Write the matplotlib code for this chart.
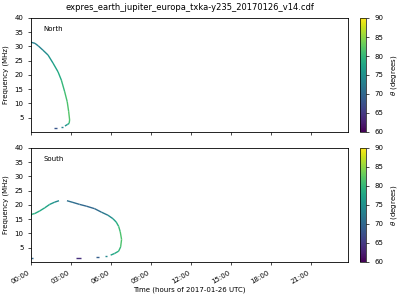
import datetime as dt
import numpy as np
import matplotlib
matplotlib.use('Agg')
import matplotlib.pyplot as plt
import matplotlib.dates as mdates
from matplotlib.collections import LineCollection

# hours after 2017-01-26 00:00, frequency (MHz), theta (deg), segment id
north_t = [0.0, 0.3, 0.55, 0.9, 1.28, 1.65, 2.03, 2.28, 2.53, 2.72, 2.83, 2.9, 2.86, 2.72, 2.55,
           2.25, 2.42,
           1.75, 1.95]
north_f = [31.5, 31.1, 30.2, 28.7, 27.0, 24.2, 21.1, 18.2, 14.1, 10.6, 7.1, 4.2, 3.0, 2.6, 2.1,
           1.75, 1.75,
           1.3, 1.3]
north_theta = [73, 73, 73, 74, 75, 77, 78, 79, 81, 81, 82, 82, 80, 76, 74,
               73, 73,
               68, 68]
north_seg = [0] * 15 + [1, 1] + [2, 2]

south_t = [0.0, 0.03, 0.28, 0.65, 1.03, 1.4, 1.78, 2.1,
           2.7, 3.15, 3.65, 4.15, 4.78, 5.28, 5.78, 6.15, 6.4, 6.58, 6.7, 6.8, 6.73, 6.58, 6.28, 5.98,
           5.55, 5.7,
           4.9, 5.1,
           3.4, 3.75,
           0.0, 0.15]
south_f = [16.0, 16.7, 17.0, 17.9, 19.0, 20.2, 21.0, 21.5,
           21.5, 20.9, 20.2, 19.6, 18.7, 17.5, 16.4, 15.2, 14.0, 12.5, 10.6, 7.9, 5.3, 3.8, 3.0, 2.4,
           2.1, 2.1,
           1.6, 1.6,
           1.3, 1.3,
           1.3, 1.3]
south_theta = [79, 79, 79, 78, 78, 77, 75, 73,
               71, 71, 70, 70, 70, 71, 73, 76, 78, 80, 81, 82, 81, 79, 78, 77,
               74, 74,
               69, 69,
               64, 64,
               70, 70]
south_seg = [0] * 8 + [1] * 16 + [2, 2] + [3, 3] + [4, 4] + [5, 5]

day0 = dt.datetime(2017, 1, 26)
cmap = plt.get_cmap('viridis')
norm = plt.Normalize(60, 90)


def draw(ax, t, f, th, seg):
    x = mdates.date2num([day0 + dt.timedelta(hours=h) for h in t])
    segs, vals = [], []
    for i in range(len(x) - 1):
        if seg[i] == seg[i + 1]:
            segs.append([(x[i], f[i]), (x[i + 1], f[i + 1])])
            vals.append(0.5 * (th[i] + th[i + 1]))
    lc = LineCollection(segs, cmap=cmap, norm=norm, linewidths=1.0)
    lc.set_array(np.array(vals))
    ax.add_collection(lc)
    return lc


fig = plt.figure(figsize=(4, 3), dpi=100)
ax1 = fig.add_axes([0.0775, 0.56, 0.7925, 0.38])
ax2 = fig.add_axes([0.0775, 0.1267, 0.7925, 0.38], sharex=ax1)
cax1 = fig.add_axes([0.9, 0.56, 0.016, 0.38])
cax2 = fig.add_axes([0.9, 0.1267, 0.016, 0.38])

lc1 = draw(ax1, north_t, north_f, north_theta, north_seg)
lc2 = draw(ax2, south_t, south_f, south_theta, south_seg)

for ax, name in ((ax1, 'North'), (ax2, 'South')):
    ax.set_ylim(0, 40)
    ax.set_yticks([5, 10, 15, 20, 25, 30, 35, 40])
    ax.set_ylabel('Frequency (MHz)', fontsize=5)
    ax.tick_params(labelsize=5, length=2, width=0.5)
    ax.text(0.038, 0.9, name, transform=ax.transAxes, fontsize=5, va='center')
    for s in ax.spines.values():
        s.set_linewidth(0.6)

ax1.set_xlim(day0, day0 + dt.timedelta(hours=23.8))
ax2.xaxis.set_major_locator(mdates.HourLocator(interval=3))
ax2.xaxis.set_major_formatter(mdates.DateFormatter('%H:%M'))
plt.setp(ax1.get_xticklabels(), visible=False)
for lab in ax2.get_xticklabels():
    lab.set_rotation(30)
    lab.set_ha('right')
ax2.set_xlabel('Time (hours of 2017-01-26 UTC)', fontsize=5, labelpad=1)
ax1.set_title('expres_earth_jupiter_europa_txka-y235_20170126_v14.cdf', fontsize=6)

for lc, cax in ((lc1, cax1), (lc2, cax2)):
    cb = fig.colorbar(lc, cax=cax)
    cb.set_ticks([60, 65, 70, 75, 80, 85, 90])
    cb.ax.tick_params(labelsize=5, length=2, width=0.5)
    cb.set_label(r'$\theta$ (degrees)', fontsize=5)
    cb.outline.set_linewidth(0.5)

fig.savefig('out.png', dpi=100)
